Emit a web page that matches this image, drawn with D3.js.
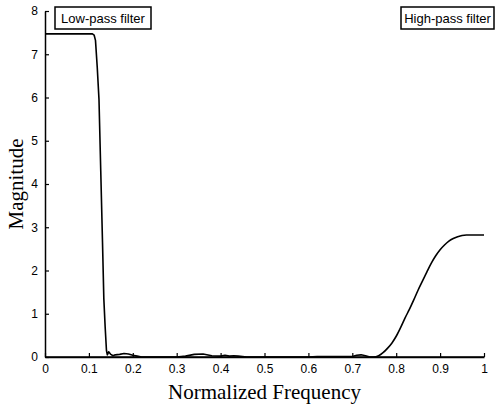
<!DOCTYPE html>
<html>
<head>
<meta charset="utf-8">
<script src="https://cdn.jsdelivr.net/npm/d3@7"></script>
<style>
  body { margin: 0; background: #fff; }
  .tick text { font-family: "Liberation Sans", Arial, sans-serif; font-size: 12px; }
</style>
</head>
<body>
<svg id="chart"></svg>
<script>
// low-pass response (normalized frequency, magnitude)
const lowFreq = [0, 0.05, 0.108, 0.112, 0.115, 0.119, 0.123, 0.127, 0.131, 0.134, 0.137, 0.14, 0.142,
    0.145, 0.15, 0.155, 0.16, 0.17, 0.18, 0.19, 0.2, 0.21, 0.22, 0.3, 0.32, 0.34, 0.36, 0.38,
    0.4, 0.41, 0.42, 0.43, 0.44, 0.46, 0.6, 0.62, 0.65, 0.7, 0.71, 0.72, 0.73, 0.74, 1];
const lowMag = [7.47, 7.47, 7.47, 7.44, 7.32, 6.7, 5.95, 4.3, 2.65, 1.35, 0.7, 0.15, 0.05,
    0.12, 0.06, 0.03, 0.05, 0.06, 0.08, 0.07, 0.04, 0.02, 0, 0, 0.02, 0.06, 0.07, 0.03,
    0.02, 0.04, 0.02, 0.03, 0.02, 0, 0, 0.01, 0.01, 0.01, 0.04, 0.05, 0.03, 0, 0];

// high-pass response
const highFreq = [0, 0.748, 0.76, 0.77, 0.78, 0.79, 0.8, 0.81, 0.82, 0.83, 0.84, 0.85, 0.86,
    0.87, 0.88, 0.89, 0.9, 0.91, 0.92, 0.93, 0.94, 0.95, 0.96, 0.97, 1];
const highMag = [0, 0, 0.03, 0.1, 0.2, 0.32, 0.48, 0.68, 0.9, 1.1, 1.32, 1.55, 1.76,
    1.97, 2.17, 2.34, 2.48, 2.59, 2.68, 2.74, 2.78, 2.81, 2.82, 2.82, 2.82];

const xTicks = [0, 0.1, 0.2, 0.3, 0.4, 0.5, 0.6, 0.7, 0.8, 0.9, 1];
const yTicks = [0, 1, 2, 3, 4, 5, 6, 7, 8];

const width = 495, height = 405;
const margin = { top: 11, right: 11, bottom: 48, left: 45 };

const svg = d3.select('#chart')
    .attr('width', width)
    .attr('height', height);

const x = d3.scaleLinear().domain([0, 1]).range([margin.left, width - margin.right]);
const y = d3.scaleLinear().domain([0, 8]).range([height - margin.bottom, margin.top]);

const xAxis = d3.axisBottom(x)
    .tickValues(xTicks)
    .tickFormat(d3.format('~g'))
    .tickSizeInner(-4)
    .tickSizeOuter(0)
    .tickPadding(7);

const yAxis = d3.axisLeft(y)
    .tickValues(yTicks)
    .tickSizeInner(-4)
    .tickSizeOuter(0)
    .tickPadding(7);

const gx = svg.append('g')
    .attr('transform', 'translate(0,' + y(0) + ')')
    .call(xAxis);

const gy = svg.append('g')
    .attr('transform', 'translate(' + x(0) + ',0)')
    .call(yAxis);

[gx, gy].forEach(g => {
    g.select('.domain').attr('stroke', '#000').attr('stroke-width', 1.5);
    g.selectAll('.tick line').attr('stroke', '#000').attr('stroke-width', 1.2);
    g.selectAll('.tick text').attr('fill', '#000');
});

const lowLine = d3.line()
    .x(d => x(d[0]))
    .y(d => y(d[1]));

const highLine = d3.line()
    .x(d => x(d[0]))
    .y(d => y(d[1]))
    .curve(d3.curveMonotoneX);

svg.append('path')
    .datum(d3.zip(lowFreq, lowMag))
    .attr('fill', 'none')
    .attr('stroke', '#000')
    .attr('stroke-width', 1.6)
    .attr('stroke-linejoin', 'round')
    .attr('d', lowLine);

svg.append('path')
    .datum(d3.zip(highFreq, highMag))
    .attr('fill', 'none')
    .attr('stroke', '#000')
    .attr('stroke-width', 1.6)
    .attr('stroke-linejoin', 'round')
    .attr('d', highLine);

// text boxes
const boxes = [
    { label: 'Low-pass filter', x: 55, w: 96 },
    { label: 'High-pass filter', x: 401, w: 93 }
];
boxes.forEach(b => {
    svg.append('rect')
        .attr('x', b.x).attr('y', 7)
        .attr('width', b.w).attr('height', 22)
        .attr('fill', '#fff')
        .attr('stroke', '#000')
        .attr('stroke-width', 1.5);
    svg.append('text')
        .attr('x', b.x + b.w / 2).attr('y', 23)
        .attr('text-anchor', 'middle')
        .style('font-family', '"Liberation Sans", Arial, sans-serif')
        .style('font-size', '13px')
        .text(b.label);
});

svg.append('text')
    .attr('x', (x(0) + x(1)) / 2)
    .attr('y', 399)
    .attr('text-anchor', 'middle')
    .style('font-family', '"Liberation Serif", "Times New Roman", serif')
    .style('font-size', '21px')
    .text('Normalized Frequency');

svg.append('text')
    .attr('transform', 'translate(23,' + y(4) + ') rotate(-90)')
    .attr('text-anchor', 'middle')
    .style('font-family', '"Liberation Serif", "Times New Roman", serif')
    .style('font-size', '21px')
    .text('Magnitude');
</script>
</body>
</html>
